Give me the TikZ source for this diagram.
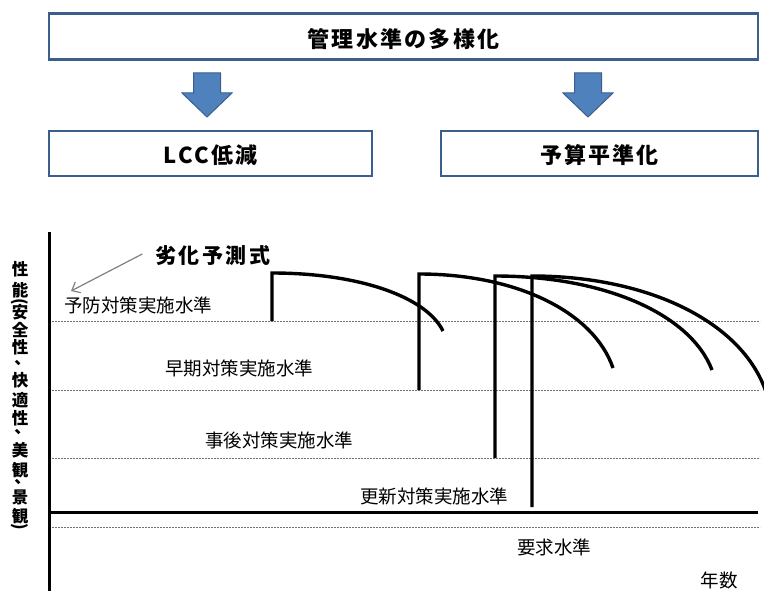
\documentclass[tikz,border=0pt]{standalone}
\usepackage{fontspec}
\usepackage{graphicx}
\setmainfont{Noto Sans CJK JP}
\usetikzlibrary{arrows.meta}
\definecolor{boxblue}{HTML}{3B5E8C}
\definecolor{arrowfill}{HTML}{4F81BD}
\definecolor{dashgray}{HTML}{707070}
\newcommand\vchar[1]{\vbox to 0pt{\vss\hbox to 0pt{\hss#1\hss}\vss}}
\newcommand\vcomma{\vbox to 0pt{\vss\hbox to 0pt{\hss\kern5pt\raisebox{0pt}[3pt][0pt]{、}\hss}\vss}}
\begin{document}
\begin{tikzpicture}[x=1pt,y=-1pt,
  boxnode/.style={draw=boxblue, line width=2.5pt, fill=white, inner sep=0pt,
    font=\fontsize{22}{22}\selectfont\bfseries\addfontfeature{LetterSpace=10},
    text height=21pt, text depth=0pt},
  blockarrow/.style={fill=arrowfill, draw=boxblue, line width=1pt, line join=miter},
  lbl/.style={inner sep=0pt, font=\fontsize{18.5}{18.5}\selectfont},
  vlbl/.style={inner sep=0pt, font=\fontsize{16.5}{16.5}\selectfont\bfseries},
  dashline/.style={draw=dashgray, line width=1pt, dash pattern=on 2pt off 1pt},
  axisline/.style={line width=3pt},
  curveline/.style={line width=3.4pt, line join=miter}]
\useasboundingbox (0,0) rectangle (764,591);

% --- top boxes ---
\node[boxnode, minimum width=709pt, minimum height=46pt, text height=22.8pt] (top) at (403.5,36.5) {管理水準の多様化};
\node[boxnode, minimum width=323pt, minimum height=45pt, text height=20pt] (lcc) at (210.5,153.5) {LCC低減};
\node[boxnode, minimum width=317pt, minimum height=45pt, text height=20pt] (yosan) at (599.5,153.5) {予算平準化};

% --- block arrows ---
\foreach \cx in {207,588}
  \filldraw[blockarrow] (\cx-13.5,73) -- (\cx+13.5,73) -- (\cx+13.5,93) -- (\cx+25,93)
     -- (\cx,117) -- (\cx-25,93) -- (\cx-13.5,93) -- cycle;

% --- axes and levels ---
\draw[axisline] (49,232) -- (49,593);
\foreach \yy in {321,390,458,527}
  \draw[dashline] (52,\yy) -- (760,\yy);
\draw[axisline] (49,512) -- (758,512);

% --- deterioration curves ---
\draw[curveline] (272,321) -- (272,273) .. controls (357.5,273) and (425.9,296.2) .. (443,331);
\draw[curveline] (419,390) -- (419,274) .. controls (516,274) and (593.6,311.6) .. (613,368);
\draw[curveline] (495,458) -- (495,276) .. controls (603.5,276) and (690.3,313.6) .. (712,370);
\draw[curveline] (532,507) -- (532,276) .. controls (649,276) and (742.6,322.4) .. (766,392);

% --- labels ---
\node[inner sep=0pt, font=\fontsize{21}{21}\selectfont\bfseries\addfontfeature{LetterSpace=12}] (rekka) at (213,256) {劣化予測式};
\node[lbl] (yobo) at (138,305) {予防対策実施水準};
\node[lbl] (soki) at (239,368) {早期対策実施水準};
\node[lbl] (jigo) at (279,440) {事後対策実施水準};
\node[lbl] (koshin) at (434,496) {更新対策実施水準};
\node[lbl] (yokyu) at (554,547) {要求水準};
\node[lbl] (nensu) at (719,580) {年数};

\coordinate (rekkaend) at (71,291);
\draw[draw=gray, line width=1.2pt, -{Straight Barb[length=7pt,width=12pt]}]
  ([xshift=-13pt,yshift=2pt]rekka.west) -- (rekkaend);

% --- vertical axis title ---
\node[vlbl, anchor=north] (vtitle) at (20,269.5) {\vbox{\offinterlineskip
  \vchar{性}\kern20pt
  \vchar{能}\kern12.5pt
  \vchar{\rotatebox{-90}{(}}\kern10pt
  \vchar{安}\kern18pt
  \vchar{全}\kern17.5pt
  \vchar{性}\kern15pt
  \vcomma\kern18pt
  \vchar{快}\kern19pt
  \vchar{適}\kern19pt
  \vchar{性}\kern13pt
  \vcomma\kern19pt
  \vchar{美}\kern19pt
  \vchar{観}\kern12pt
  \vcomma\kern16pt
  \vchar{景}\kern18pt
  \vchar{観}\kern11.5pt
  \vchar{\rotatebox{-90}{)}}}};
\end{tikzpicture}
\end{document}
